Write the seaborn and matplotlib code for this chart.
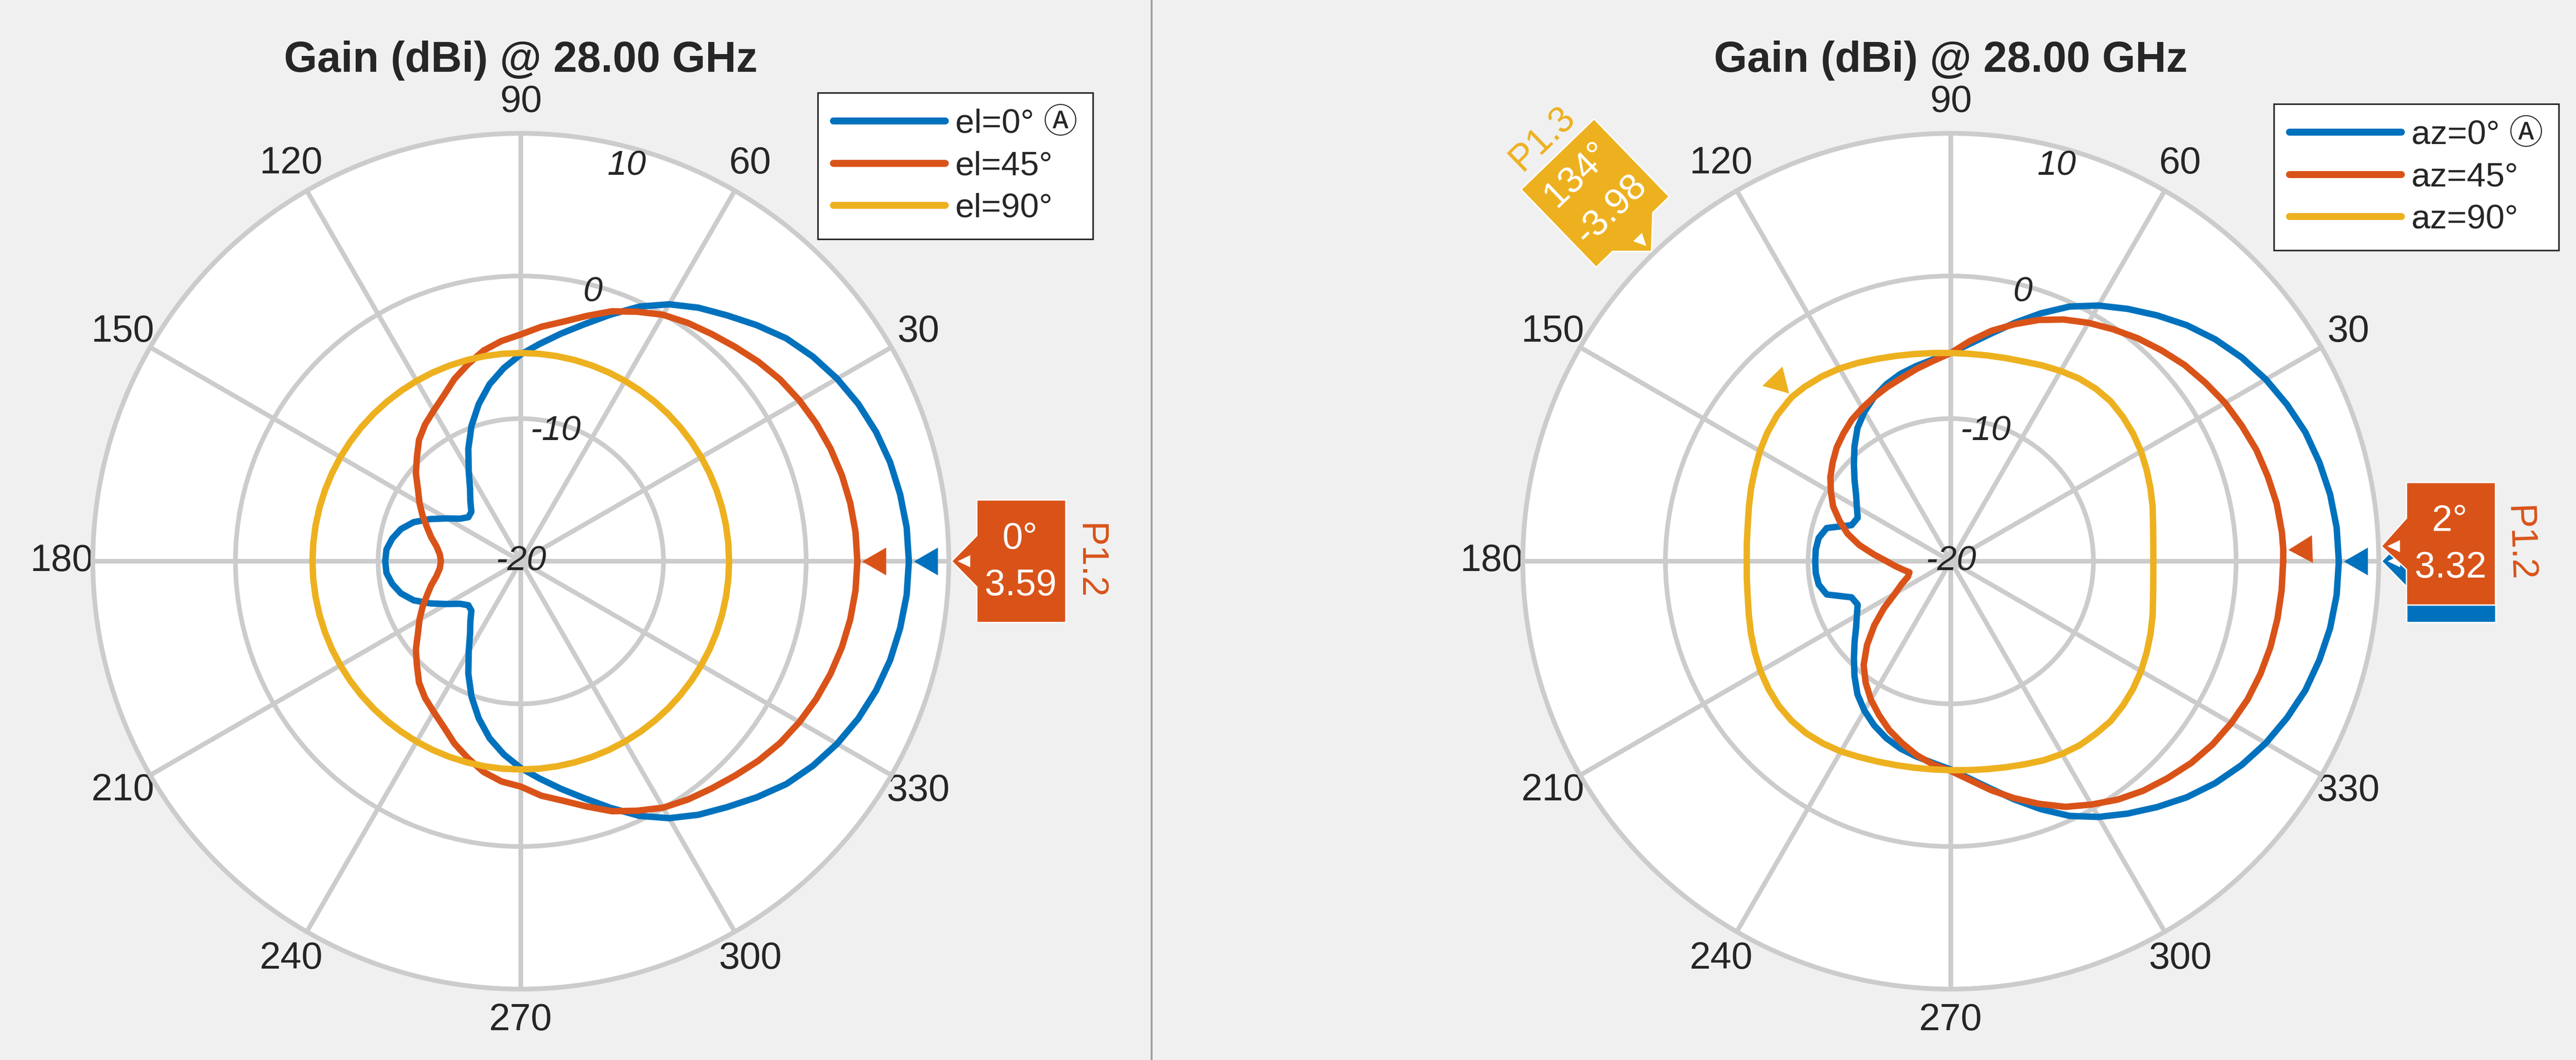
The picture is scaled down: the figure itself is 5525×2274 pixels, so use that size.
import numpy as np
import pandas as pd
import matplotlib
matplotlib.use("Agg")
import matplotlib.pyplot as plt
from matplotlib.patches import Polygon
from matplotlib.lines import Line2D
from matplotlib.markers import MarkerStyle
import seaborn as sns

W, H, DPI = 5525, 2274, 300

# ---------------------------------------------------------------- data
angles = list(range(0, 360, 5))

# azimuth cuts (gain in dBi vs azimuth angle)
az_el0 = [7.2, 7.15, 7.0, 6.8, 6.5, 6.1, 5.6, 5.0, 4.3, 3.4, 2.5, 1.7,
          0.8, -0.3, -1.6, -2.8, -3.8, -4.7, -5.5, -6.4, -7.4, -8.6, -9.9, -11.3,
          -12.7, -13.8, -14.5, -15.1, -15.2, -14.8, -14.0, -13.0, -12.0, -11.3, -10.85, -10.55,
          -10.5, -10.55, -10.85, -11.3, -12.0, -13.0, -14.0, -14.8, -15.2, -15.1, -14.5, -13.8,
          -12.7, -11.3, -9.9, -8.6, -7.4, -6.4, -5.5, -4.7, -3.8, -2.8, -1.6, -0.3,
          0.8, 1.7, 2.5, 3.4, 4.3, 5.0, 5.6, 6.1, 6.5, 6.8, 7.0, 7.15]
az_el45 = [3.59, 3.55, 3.45, 3.3, 3.1, 2.85, 2.55, 2.2, 1.75, 1.25, 0.8, 0.4,
           -0.05, -0.7, -1.35, -2.2, -2.95, -3.5, -4.1, -4.5, -5.0, -5.7, -6.4, -7.2,
           -7.8, -8.3, -8.9, -9.7, -10.4, -11.2, -11.8, -12.4, -13.0, -13.5, -14.0, -14.3,
           -14.4, -14.3, -14.0, -13.5, -13.0, -12.4, -11.8, -11.2, -10.4, -9.7, -8.9, -8.3,
           -7.8, -7.2, -6.4, -5.7, -5.0, -4.5, -4.2, -3.5, -2.95, -2.2, -1.35, -0.7,
           -0.05, 0.4, 0.8, 1.25, 1.75, 2.2, 2.55, 2.85, 3.1, 3.3, 3.45, 3.55]
az_el90 = [-5.4, -5.4, -5.4, -5.4, -5.4, -5.4, -5.4, -5.4, -5.4, -5.4, -5.4, -5.4,
           -5.4, -5.4, -5.4, -5.4, -5.4, -5.4, -5.4, -5.4, -5.4, -5.4, -5.4, -5.4,
           -5.4, -5.4, -5.4, -5.4, -5.4, -5.4, -5.4, -5.4, -5.4, -5.4, -5.4, -5.4,
           -5.4, -5.4, -5.4, -5.4, -5.4, -5.4, -5.4, -5.4, -5.4, -5.4, -5.4, -5.4,
           -5.4, -5.4, -5.4, -5.4, -5.4, -5.4, -5.4, -5.4, -5.4, -5.4, -5.4, -5.4,
           -5.4, -5.4, -5.4, -5.4, -5.4, -5.4, -5.4, -5.4, -5.4, -5.4, -5.4, -5.4]

# elevation cuts (gain in dBi vs elevation angle)
el_az0 = [7.2, 7.15, 7.0, 6.75, 6.45, 6.0, 5.5, 4.9, 4.2, 3.4, 2.5, 1.6,
          0.7, -0.3, -1.5, -2.7, -3.8, -4.7, -5.4, -5.8, -6.1, -6.4, -6.8, -7.3,
          -7.9, -8.6, -9.5, -10.4, -11.2, -11.9, -12.4, -12.8, -12.6, -11.0, -10.6, -10.5,
          -10.5, -10.5, -10.6, -11.0, -12.6, -12.8, -12.4, -11.9, -11.2, -10.4, -9.5, -8.6,
          -7.9, -7.3, -6.8, -6.4, -6.1, -5.8, -5.4, -4.7, -3.8, -2.7, -1.5, -0.3,
          0.7, 1.6, 2.5, 3.4, 4.2, 4.9, 5.5, 6.0, 6.45, 6.75, 7.0, 7.15]
el_az45 = [3.30, 3.30, 3.2, 3.0, 2.8, 2.5, 2.2, 1.8, 1.4, 0.9, 0.4, -0.15,
           -0.7, -1.3, -2.0, -2.8, -3.6, -4.5, -5.4, -5.9, -6.3, -6.7, -7.0, -7.3,
           -7.6, -7.9, -8.3, -8.7, -9.2, -9.7, -10.3, -10.9, -11.7, -12.5, -13.5, -14.6,
           -15.5, -16.1, -16.6, -17.0, -16.8, -16.2, -15.5, -14.3, -13.0, -11.7, -10.5, -9.6,
           -8.8, -8.1, -7.4, -6.8, -6.2, -5.7, -5.3, -4.6, -3.7, -2.8, -1.9, -1.0,
           -0.3, 0.4, 1.0, 1.5, 2.0, 2.4, 2.7, 2.95, 3.1, 3.2, 3.25, 3.28]
el_az90 = [-5.8, -5.75, -5.6, -5.35, -5.1, -4.85, -4.6, -4.4, -4.25, -4.15, -4.2, -4.35,
           -4.6, -4.85, -5.1, -5.25, -5.35, -5.4, -5.4, -5.35, -5.25, -5.1, -4.9, -4.65,
           -4.4, -4.2, -4.05, -4.0, -4.1, -4.3, -4.55, -4.85, -5.1, -5.35, -5.55, -5.65,
           -5.7, -5.65, -5.55, -5.35, -5.1, -4.85, -4.6, -4.4, -4.25, -4.2, -4.25, -4.4,
           -4.6, -4.85, -5.05, -5.2, -5.3, -5.35, -5.35, -5.3, -5.2, -5.05, -4.85, -4.6,
           -4.4, -4.25, -4.2, -4.15, -4.25, -4.4, -4.6, -4.85, -5.1, -5.35, -5.6, -5.75]

left_labels = ["el=0° \u24b6", "el=45°", "el=90°"]
right_labels = ["az=0° \u24b6", "az=45°", "az=90°"]

# peak (angle, gain) per cut; None = no peak marker shown
left_peaks = [(0, 7.2), (0, 3.59), None]
right_peaks = [(0, 7.2), (2, 3.32), (134, -3.98)]

title_text = "Gain (dBi) @ 28.00 GHz"
angle_ticks = list(range(0, 360, 30))
ring_ticks = [-20, -10, 0, 10]
r_min, r_max = -20, 10

colors = ["#0072BD", "#D95319", "#EDB120"]
grid_c = "#CCCCCC"

# ---------------------------------------------------------------- style
sns.set_style("white")
plt.rcParams["font.family"] = ["Liberation Sans", "DejaVu Sans", "Noto Sans CJK JP"]
plt.rcParams["axes.unicode_minus"] = False


def cut_frame(series, labels, peaks):
    rows = []
    for vals, lab, pk in zip(series, labels, peaks):
        pts = dict(zip(angles, vals))
        if pk is not None:
            pts[pk[0]] = pk[1]
        th = sorted(pts)
        for a in th + [th[0] + 360]:
            rows.append({"theta": np.deg2rad(a), "gain": pts[a % 360], "cut": lab})
    return pd.DataFrame(rows)


fig = plt.figure(figsize=(W / DPI, H / DPI), dpi=DPI, facecolor="#F0F0F0")

R_PX = 918
CY = 1204


def polar_panel(cx, series, labels, peaks, legend_xy):
    ax = fig.add_axes([(cx - R_PX) / W, (H - CY - R_PX) / H, 2 * R_PX / W, 2 * R_PX / H],
                      projection="polar")
    ax.set_facecolor("white")
    df = cut_frame(series, labels, peaks)
    sns.lineplot(data=df, x="theta", y="gain", hue="cut", hue_order=labels,
                 palette=colors, sort=False, estimator=None, linewidth=3.3,
                 legend=False, ax=ax, zorder=3)
    ax.set_xlabel("")
    ax.set_ylabel("")
    ax.set_ylim(r_min, r_max)
    ax.set_thetagrids(angle_ticks, labels=[])
    ax.set_rgrids(ring_ticks[1:], labels=[])
    ax.grid(True, color=grid_c, linewidth=2.4)
    ax.spines["polar"].set_color(grid_c)
    ax.spines["polar"].set_linewidth(2.4)
    ax.tick_params(length=0)

    # angle labels around the rim (0 sits under the data tip)
    lab_r = r_min + (r_max - r_min) * 985 / R_PX
    for a in angle_ticks[1:]:
        ax.text(np.deg2rad(a), lab_r, f"{a}", ha="center", va="center",
                fontsize=19.5, clip_on=False, zorder=1)
    # magnitude labels
    ax.text(0, r_min, f"{ring_ticks[0]}", ha="center", va="center",
            fontsize=18, style="italic", zorder=4)
    for t, rr in zip(ring_ticks[1:], [-10.55, -0.47, 8.7]):
        ax.text(np.deg2rad(75), rr, f"{t}", ha="center", va="center",
                fontsize=18, style="italic", zorder=4)

    # peak markers: triangles pointing to the centre
    for pk, c in zip(peaks, colors):
        if pk is None:
            continue
        a, g = pk
        m = MarkerStyle((3, 0, a + 90))
        ax.plot([np.deg2rad(a)], [g + 1.45], linestyle="none", marker=m,
                markersize=16.5, color=c, markeredgewidth=0, zorder=5, clip_on=False)

    handles = [Line2D([], [], color=c, lw=3.6) for c in colors]
    leg = ax.legend(handles, labels, loc="upper left",
                    bbox_to_anchor=(legend_xy[0] / W, 1 - legend_xy[1] / H),
                    bbox_transform=fig.transFigure, frameon=True, fancybox=False,
                    edgecolor="#262626", framealpha=1, fontsize=17.5,
                    handlelength=3.3, handletextpad=0.3, borderpad=0.45,
                    labelspacing=0.32, borderaxespad=0)
    leg.get_frame().set_linewidth(0.8)
    leg.set_zorder(20)

    fig.text(cx / W, 1 - 130 / H, title_text, ha="center", va="center",
             fontsize=22, fontweight="bold")
    return ax


axL = polar_panel(1117, [az_el0, az_el45, az_el90], left_labels, left_peaks, (1754, 199))
axR = polar_panel(4184, [el_az0, el_az45, el_az90], right_labels, right_peaks, (4877, 223))

# separator between panels
fig.add_artist(Line2D([2470 / W, 2470 / W], [0, 1], transform=fig.transFigure,
                      color="#A0A0A0", lw=1.0))

# ---------------------------------------------------------------- data tips
ov = fig.add_axes([0, 0, 1, 1], zorder=30)
ov.set_xlim(0, W)
ov.set_ylim(0, H)
ov.axis("off")
ov.patch.set_alpha(0)


def rot(v, deg):
    c, s = np.cos(np.deg2rad(deg)), np.sin(np.deg2rad(deg))
    return np.array([c * v[0] - s * v[1], s * v[0] + c * v[1]])


def datatip(ax, pk, color, tag, style, z, show_text=True):
    a, g = pk
    tip = np.array(ax.transData.transform((np.deg2rad(a), r_max)))
    u = np.array([np.cos(np.deg2rad(a)), np.sin(np.deg2rad(a))])
    tip = tip + 6 * u
    if style == "side":
        hw, hh, ph, pb, tr = 95.5, 131.5, 54, 55, 0.0
        local = [(-hw, pb), (-hw, hh), (hw, hh), (hw, -hh), (-hw, -hh), (-hw, -pb)]
        center = tip + (hw + ph) * u
        ptip_local = rot(tip - center, -tr)
        loc_pts = [tuple(ptip_local)] + local
        wt = [(ptip_local[0] + 13, ptip_local[1]), (ptip_local[0] + 40, ptip_local[1] + 13),
              (ptip_local[0] + 40, ptip_local[1] - 13)]
        txt_pos = [(-3, 48), (-1, -52)]
        p_off = (hw + 50, 0)
    else:
        hw, hh, ph, pb, tr = 109, 116, 58, 60, a - 90
        loc_pts = [(-hw, hh), (hw, hh), (hw, -hh), (pb, -hh), (0, -hh - ph), (-pb, -hh), (-hw, -hh)]
        center = tip + (hh + ph) * u
        wt = [(0, -hh - ph + 16), (13, -hh - ph + 43), (-13, -hh - ph + 43)]
        txt_pos = [(0, 55), (0, -50)]
        p_off = (0, hh + 47)
    to_px = lambda p: center + rot(p, tr)
    poly = Polygon([to_px(p) for p in loc_pts], closed=True, facecolor=color,
                   edgecolor="white", lw=0.7, joinstyle="miter", zorder=z)
    ov.add_patch(poly)
    ov.add_patch(Polygon([to_px(p) for p in wt], closed=True, facecolor="white",
                         edgecolor="none", zorder=z + 0.1))
    if not show_text:
        return
    for s, p in zip([f"{a}°", f"{g:.2f}"], txt_pos):
        q = to_px(p)
        ov.text(q[0], q[1], s, color="white", fontsize=19, ha="center", va="center",
                rotation=tr, rotation_mode="anchor", zorder=z + 0.2)
    q = to_px(p_off)
    ov.text(q[0], q[1], tag, color=color, fontsize=19, ha="center", va="center",
            rotation=a - 90, rotation_mode="anchor", zorder=z + 0.2)


datatip(axL, left_peaks[1], colors[1], "P1.2", "side", 10)
# the az=0° tip sits underneath the az=45° one
datatip(axR, right_peaks[0], colors[0], "P1.1", "side", 9, show_text=False)
datatip(axR, right_peaks[1], colors[1], "P1.2", "side", 10)
datatip(axR, right_peaks[2], colors[2], "P1.3", "bottom", 10)

fig.savefig("out.png", dpi=DPI, facecolor=fig.get_facecolor())
